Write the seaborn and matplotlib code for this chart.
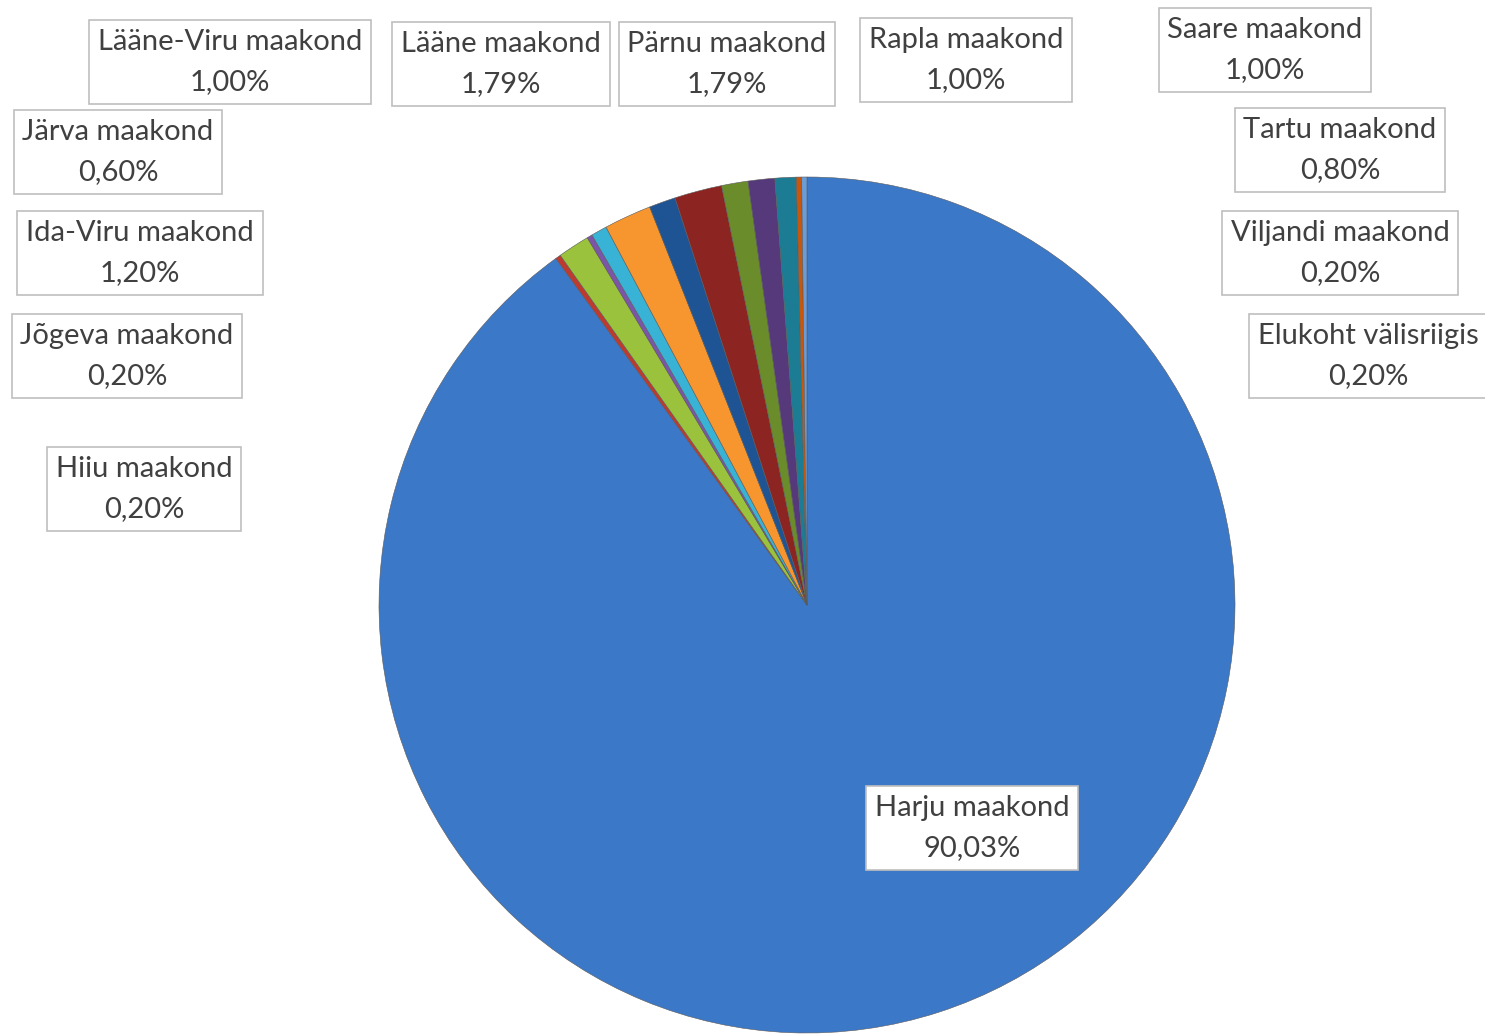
import matplotlib.pyplot as plt
import seaborn as sns

# county shares, clockwise from 12 o'clock
counties = ['Harju maakond', 'Hiiu maakond', 'Ida-Viru maakond', 'Jõgeva maakond',
            'Järva maakond', 'Lääne maakond', 'Lääne-Viru maakond', 'Pärnu maakond',
            'Rapla maakond', 'Saare maakond', 'Tartu maakond', 'Viljandi maakond',
            'Elukoht välisriigis']
shares = [90.03, 0.20, 1.20, 0.20, 0.60, 1.79, 1.00, 1.79, 1.00, 1.00, 0.80, 0.20, 0.20]

slice_colors = ['#3C78C8', '#C0392F', '#9BC23D', '#7D55A8', '#38B3D6', '#F7962F',
                '#1F5494', '#8C2421', '#6A8C2A', '#55397A', '#1B7C93', '#C8570E', '#6A9CD8']

# label box centres in pixel coordinates (x, y from top)
label_pos = [(972, 828), (144, 489), (140, 253), (127, 356), (118, 152), (501, 64),
             (230, 62), (727, 64), (966, 60), (1265, 50), (1340, 150), (1340, 253),
             (1368, 356)]

W, H = 1485, 1035
sns.set_theme(style='white')
plt.rcParams['font.family'] = ['Lato', 'DejaVu Sans']

fig = plt.figure(figsize=(W / 100, H / 100), dpi=100)
ax = fig.add_axes([0, 0, 1, 1])

ax.pie(shares, colors=slice_colors, startangle=90, counterclock=False,
       center=(807, H - 605), radius=428, frame=True,
       wedgeprops=dict(edgecolor='#5a5a5a', linewidth=0.4))
ax.set_xlim(0, W)
ax.set_ylim(0, H)
ax.set_aspect('equal')
ax.axis('off')

for name, val, (x, y) in zip(counties, shares, label_pos):
    txt = f"{name}\n{val:.2f}%".replace('.', ',')
    ax.text(x, H - y, txt, ha='center', va='center', fontsize=21, color='#404040',
            linespacing=1.7,
            bbox=dict(boxstyle='square,pad=0.3', facecolor='white', edgecolor='#BFBFBF', linewidth=1.2))

fig.savefig('out.png', dpi=100)
